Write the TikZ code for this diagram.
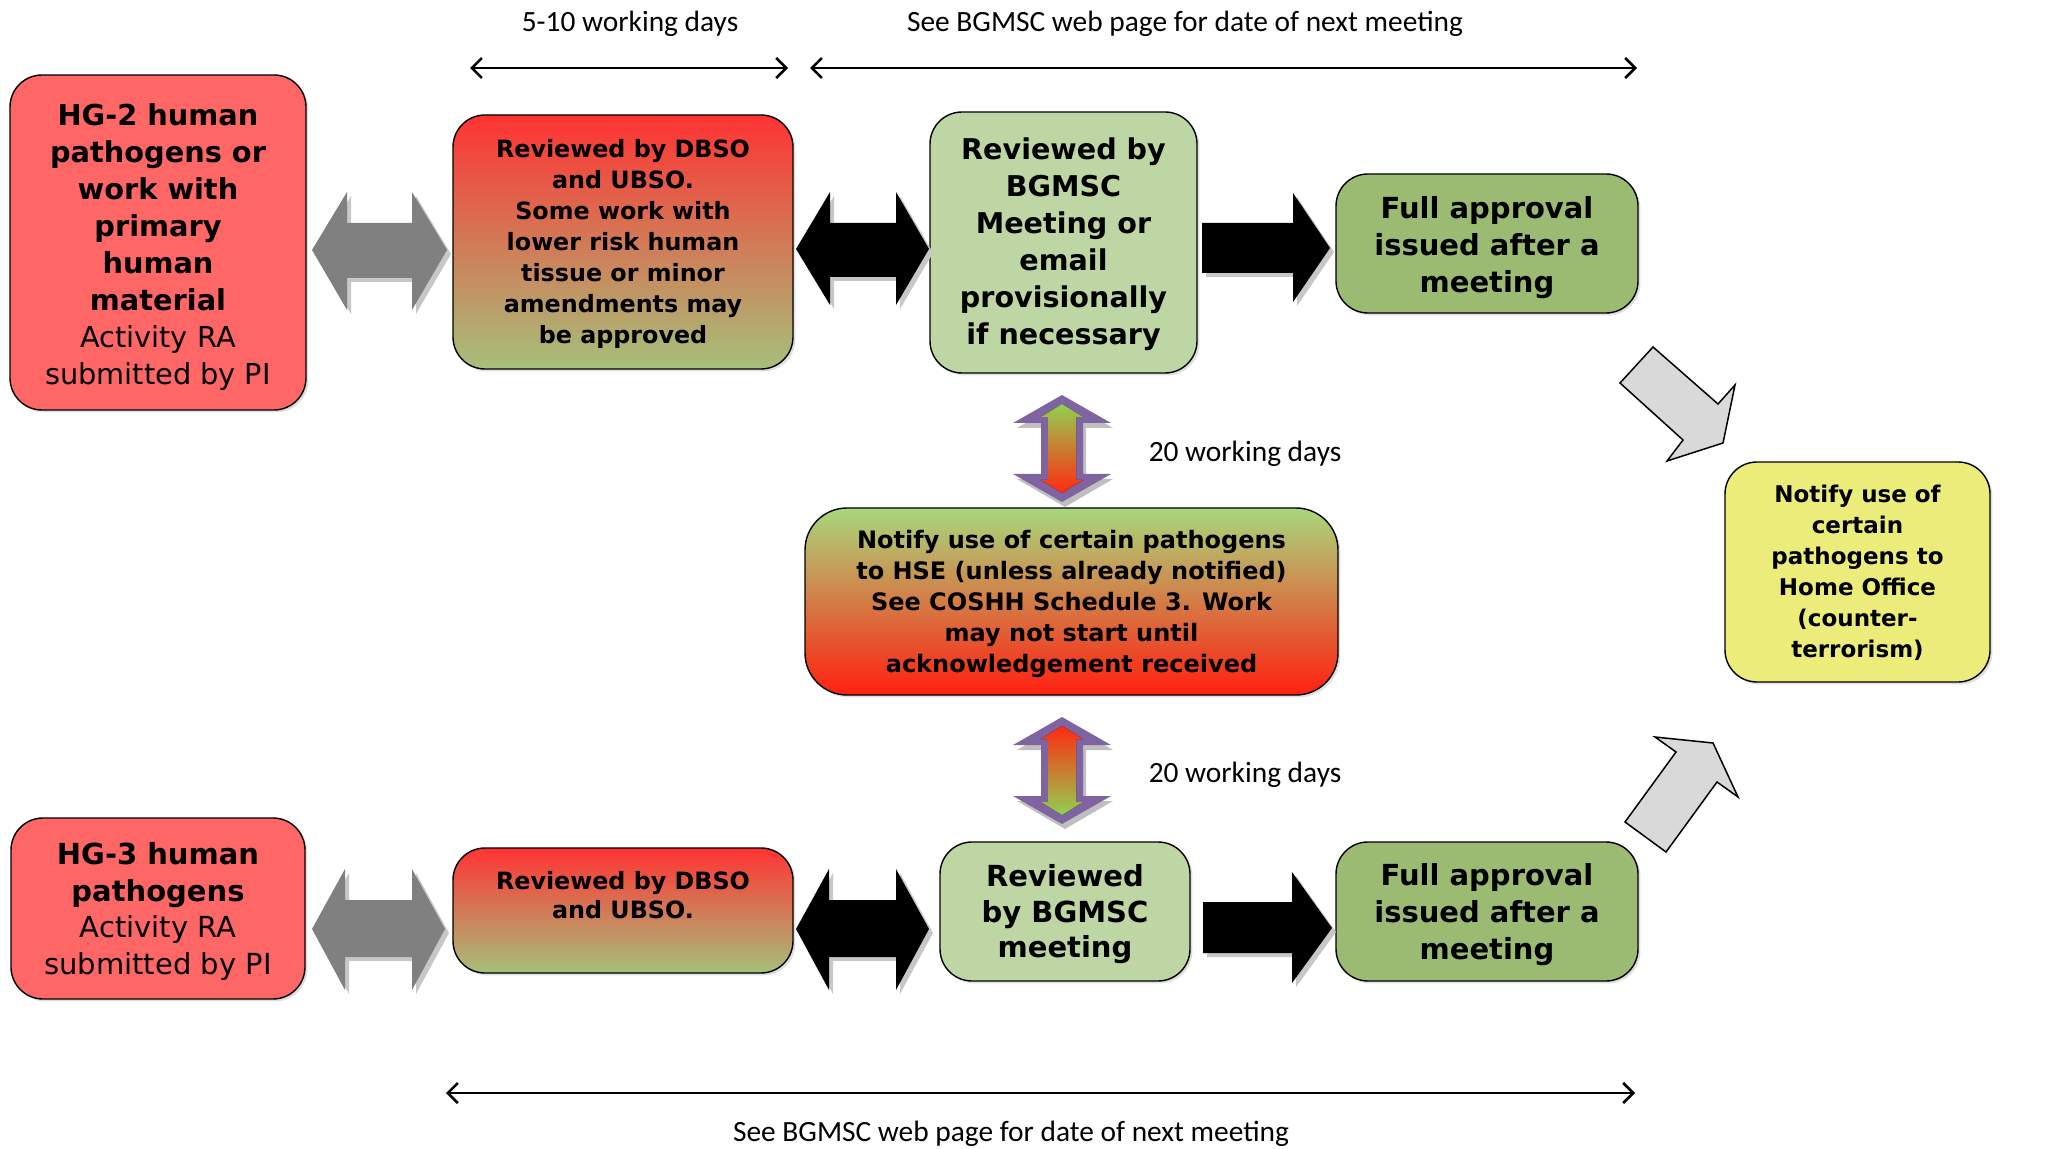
\documentclass[tikz,border=0pt]{standalone}
\usepackage{fontspec}
\setmainfont{DejaVu Sans}
\newfontfamily\lab{Carlito}
\usetikzlibrary{arrows.meta,shadows}
\definecolor{hgred}{HTML}{FF6666}
\definecolor{revred}{HTML}{FF3333}
\definecolor{revgreen}{HTML}{A5C07A}
\definecolor{bglight}{HTML}{BED5A4}
\definecolor{fullgreen}{HTML}{9BBB72}
\definecolor{homeyel}{HTML}{ECEC7A}
\definecolor{hsegreen}{HTML}{A8D87C}
\definecolor{hsered}{HTML}{FF2010}
\definecolor{purp}{HTML}{8064A2}
\definecolor{ingreen}{HTML}{92D050}
\definecolor{inred}{HTML}{FF2A10}
\definecolor{diaggray}{HTML}{D9D9D9}
\begin{document}
\begin{tikzpicture}[x=0.5pt,y=-0.5pt,
  box/.style={draw=black, line width=0.7pt, rounded corners=16pt, inner sep=0pt,
    drop shadow={opacity=0.25, shadow xshift=1.2pt, shadow yshift=-1.2pt}},
  tx/.style={align=center, inner sep=0pt},
  hgfont/.style={font=\fontsize{14.4}{18.5}\selectfont},
  revfont/.style={font=\bfseries\fontsize{11.9}{15.5}\selectfont},
  bigfont/.style={font=\bfseries\fontsize{14.5}{18.5}\selectfont},
  smallfont/.style={font=\bfseries\fontsize{12}{15.5}\selectfont},
  labfont/.style={font=\lab\fontsize{14.7}{17}\selectfont, inner sep=0pt, anchor=base},
  dimline/.style={line width=1.3pt, {Straight Barb[length=5pt,width=10pt]}-{Straight Barb[length=5pt,width=10pt]}},
  blockshadow/.style={fill=black!22},
  diag/.style={fill=diaggray, draw=black, line width=0.75pt, line join=miter}
]
\useasboundingbox (0,0) rectangle (2049,1149);

% ---------- boxes ----------
\node[box, fill=hgred, minimum width=148pt, minimum height=167.5pt] (hg2) at (158,242.5) {};
\node[tx, hgfont] (hg2t) at ([yshift=-2.5pt]hg2.center)
  {\textbf{HG-2 human}\\\textbf{pathogens or}\\\textbf{work with}\\\textbf{primary}\\\textbf{human}\\\textbf{material}\\Activity RA\\submitted by PI};
\node[box, top color=revred, bottom color=revgreen, minimum width=170pt, minimum height=127pt] (rev1) at (623,242) {};
\node[tx, revfont] (rev1t) at ([yshift=-1pt]rev1.center)
  {Reviewed by DBSO\\and UBSO.\\Some work with\\lower risk human\\tissue or minor\\amendments may\\be approved};
\node[box, fill=bglight, minimum width=133.5pt, minimum height=130.5pt] (bg1) at (1063.5,242.5) {};
\node[tx, font=\bfseries\fontsize{14.3}{18.5}\selectfont] (bg1t) at ([yshift=-0.7pt]bg1.center)
  {Reviewed by\\BGMSC\\Meeting or\\email\\provisionally\\if necessary};
\node[box, fill=fullgreen, minimum width=151pt, minimum height=69.5pt] (full1) at (1487,243.5) {};
\node[tx, bigfont] (full1t) at ([yshift=-2pt]full1.center) {Full approval\\issued after a\\meeting};
\node[box, fill=homeyel, minimum width=132.5pt, minimum height=110pt] (home) at (1857.5,572) {};
\node[tx, font=\bfseries\fontsize{11.5}{15.5}\selectfont] (homet) at ([yshift=-0.6pt]home.center)
  {Notify use of\\certain\\pathogens to\\Home Office\\(counter-\\terrorism)};
\node[box, rounded corners=21pt, top color=hsegreen, bottom color=hsered, minimum width=266.5pt, minimum height=93.5pt] (hse) at (1071.5,601.5) {};
\node[tx, smallfont] (hset) at ([yshift=-1pt]hse.center)
  {Notify use of certain pathogens\\to HSE (unless already notified)\\See COSHH Schedule 3. Work\\may not start until\\acknowledgement received};

\node[box, fill=hgred, minimum width=147pt, minimum height=90.5pt] (hg3) at (158,908.5) {};
\node[tx, font=\fontsize{14.5}{18.3}\selectfont] (hg3t) at ([yshift=-1.5pt]hg3.center)
  {\textbf{HG-3 human}\\\textbf{pathogens}\\Activity RA\\submitted by PI};
\node[box, top color=revred, bottom color=revgreen, minimum width=170pt, minimum height=62.5pt] (rev2) at (623,910.5) {};
\node[tx, font=\bfseries\fontsize{11.9}{14.5}\selectfont] (rev2t) at (623,895) {Reviewed by DBSO\\and UBSO.};
\node[box, fill=bglight, minimum width=125pt, minimum height=69.5pt] (bg2) at (1065,911.5) {};
\node[tx, font=\bfseries\fontsize{14.5}{17.8}\selectfont] (bg2t) at ([yshift=-1.5pt]bg2.center) {Reviewed\\by BGMSC\\meeting};
\node[box, fill=fullgreen, minimum width=151pt, minimum height=69.5pt] (full2) at (1487,911.5) {};
\node[tx, bigfont] (full2t) at ([yshift=-1.5pt]full2.center) {Full approval\\issued after a\\meeting};

% ---------- block arrows, shadows ----------
\begin{scope}[shift={(4,4)}]
  \fill[blockshadow] (312,250) -- (347,192) -- (347,223) -- (412,223) -- (412,192) -- (447,250) -- (412,310) -- (412,278) -- (347,278) -- (347,310) -- cycle;
  \fill[blockshadow] (796,249) -- (830,192) -- (830,223) -- (896,223) -- (896,192) -- (929,249) -- (896,305) -- (896,277) -- (830,277) -- (830,305) -- cycle;
  \fill[blockshadow] (1202,223) -- (1293,223) -- (1293,193) -- (1330,248) -- (1293,302) -- (1293,273) -- (1202,273) -- cycle;
  \fill[blockshadow] (312,929) -- (345,869) -- (345,900) -- (412,900) -- (412,869) -- (445,929) -- (412,990) -- (412,957) -- (345,957) -- (345,990) -- cycle;
  \fill[blockshadow] (796,929) -- (829,869) -- (829,900) -- (896,900) -- (896,869) -- (929,929) -- (896,990) -- (896,957) -- (829,957) -- (829,990) -- cycle;
  \fill[blockshadow] (1203,902) -- (1292,902) -- (1292,872) -- (1332,928) -- (1292,983) -- (1292,953) -- (1203,953) -- cycle;
\end{scope}
% ---------- block arrows, row 1 ----------
\fill[black!50] (312,250) -- (347,192) -- (347,223) -- (412,223) -- (412,192) -- (447,250) -- (412,310) -- (412,278) -- (347,278) -- (347,310) -- cycle;
\fill[black] (796,249) -- (830,192) -- (830,223) -- (896,223) -- (896,192) -- (929,249) -- (896,305) -- (896,277) -- (830,277) -- (830,305) -- cycle;
\fill[black] (1202,223) -- (1293,223) -- (1293,193) -- (1330,248) -- (1293,302) -- (1293,273) -- (1202,273) -- cycle;
% ---------- block arrows, row 2 ----------
\fill[black!50] (312,929) -- (345,869) -- (345,900) -- (412,900) -- (412,869) -- (445,929) -- (412,990) -- (412,957) -- (345,957) -- (345,990) -- cycle;
\fill[black] (796,929) -- (829,869) -- (829,900) -- (896,900) -- (896,869) -- (929,929) -- (896,990) -- (896,957) -- (829,957) -- (829,990) -- cycle;
\fill[black] (1203,902) -- (1292,902) -- (1292,872) -- (1332,928) -- (1292,983) -- (1292,953) -- (1203,953) -- cycle;

% ---------- purple double arrows ----------
\foreach \dy/\ct/\cb in {0/ingreen/inred, 322/inred/ingreen}{
  \begin{scope}[yshift=-\dy*0.5pt]
    \fill[black!25] (1065,400) -- (1113,428) -- (1086,428) -- (1086,479) -- (1113,479) -- (1065,507) -- (1017,479) -- (1044,479) -- (1044,428) -- (1017,428) -- cycle;
    \fill[purp] (1062,395) -- (1111,423) -- (1083,423) -- (1083,474) -- (1111,474) -- (1062,502) -- (1013,474) -- (1041,474) -- (1041,423) -- (1013,423) -- cycle;
    \fill[top color=\ct, bottom color=\cb] (1062,404) -- (1083,417) -- (1076,417) -- (1076,480) -- (1083,480) -- (1062,493) -- (1041,480) -- (1048,480) -- (1048,417) -- (1041,417) -- cycle;
  \end{scope}
}

% ---------- diagonal arrows ----------
\draw[diag] (1620,383) -- (1653,347) -- (1718,404) -- (1735,385) -- (1723,443) -- (1667,461) -- (1683,440) -- cycle;
\draw[diag] (1625,822) -- (1676,752) -- (1655,737) -- (1713,743) -- (1738,797) -- (1717,782) -- (1666,852) -- cycle;

% ---------- labels ----------
\node[labfont] (l20a) at (1245,462) {20 working days};
\node[labfont] (l20b) at (1245,782) {20 working days};
\node[labfont] (l510) at (630,32) {5-10 working days};
\node[labfont] (ltop) at (1185,32) {See BGMSC web page for date of next meeting};
\node[labfont] (lbot) at (1011,1141) {See BGMSC web page for date of next meeting};

% ---------- dimension lines ----------
\coordinate (d1a) at (470,68);
\coordinate (d1b) at (788,68);
\coordinate (d2a) at (810,68);
\coordinate (d2b) at (1637,68);
\coordinate (d3a) at (446,1093);
\coordinate (d3b) at (1635,1093);
\draw[dimline] (d1a) -- (d1b);
\draw[dimline] (d2a) -- (d2b);
\draw[dimline] (d3a) -- (d3b);
\end{tikzpicture}
\end{document}
